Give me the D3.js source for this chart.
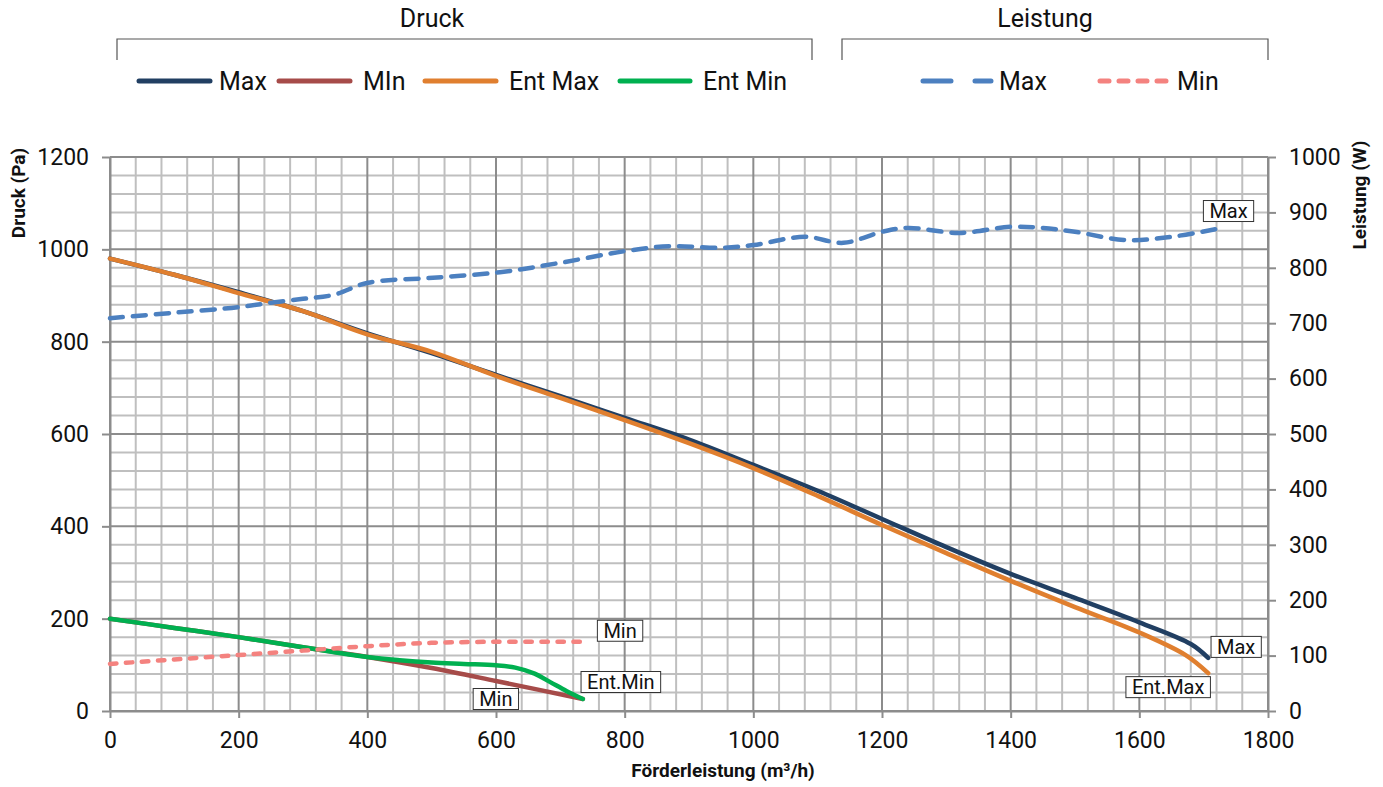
<!DOCTYPE html>
<html><head><meta charset="utf-8">
<script src="https://cdn.jsdelivr.net/npm/d3@7"></script>
<style>
body{margin:0;background:#fff}
svg{display:block}
text{font-family:Roboto,"Noto Sans",sans-serif;fill:#111}
</style>
</head><body>
<svg id="c" width="1383" height="787"></svg>
<script>
// ---- Data (Förderleistung m³/h vs Druck Pa / Leistung W) ----
const druckMaxQ = [0, 100, 200, 300, 400, 500, 600, 700, 800, 900, 1000, 1100, 1200, 1300, 1400, 1500, 1600, 1680, 1707];
const druckMaxP = [980, 945, 907, 866, 818, 775, 728, 682, 635, 588, 533, 477, 416, 355, 297, 245, 192, 145, 115];

const druckMinQ = [0, 100, 200, 300, 400, 500, 600, 735];
const druckMinP = [200, 180, 160, 138, 117, 93, 65, 26];

const entMaxQ = [0, 100, 200, 300, 400, 500, 600, 700, 800, 900, 1000, 1100, 1200, 1300, 1400, 1500, 1600, 1672, 1707];
const entMaxP = [980, 945, 905, 866, 816, 778, 726, 678, 630, 580, 526, 466, 403, 342, 282, 225, 170, 121, 82];

const entMinQ = [0, 100, 200, 300, 400, 450, 500, 550, 600, 630, 660, 685, 710, 735];
const entMinP = [200, 180, 160, 138, 117, 110, 105, 102, 99, 94, 81, 62, 43, 26];

const leistMaxQ = [0, 100, 200, 250, 300, 347, 401, 502, 606, 700, 800, 870, 950, 1000, 1080, 1140, 1200, 1240, 1320, 1400, 1450, 1500, 1580, 1650, 1720];
const leistMaxW = [709, 719, 729, 737, 744, 751, 773, 782, 792, 809, 830, 839, 836, 841, 856, 845, 865, 872, 863, 874, 872, 865, 850, 856, 870];

const leistMinQ = [0, 100, 200, 300, 400, 500, 600, 740];
const leistMinW = [85, 93, 101, 109, 117, 123, 125, 125];

const xTicks = [0, 200, 400, 600, 800, 1000, 1200, 1400, 1600, 1800];
const yLeftTicks = [0, 200, 400, 600, 800, 1000, 1200];
const yRightTicks = [0, 100, 200, 300, 400, 500, 600, 700, 800, 900, 1000];

// ---- Layout ----
const svg = d3.select("#c");
const P = {l:110, r:1268, t:157, b:711};
const x = d3.scaleLinear().domain([0,1800]).range([P.l,P.r]);
const yL = d3.scaleLinear().domain([0,1200]).range([P.b,P.t]);
const yR = d3.scaleLinear().domain([0,1000]).range([P.b,P.t]);

const MINOR="#bfbfbf", MAJOR="#8c8c8c";
const C = {max:"#213f62", min:"#a64b49", entMax:"#e07f2f", entMin:"#00b050", lMax:"#4c80c0", lMin:"#f4827f"};

// grid
const g = svg.append("g");
const minorX = d3.range(0,1801,40).filter(v=>v%200!==0);
const minorY = d3.range(0,1201,40).filter(v=>v%200!==0);
g.selectAll(".mx").data(minorX).join("line").attr("x1",d=>x(d)).attr("x2",d=>x(d)).attr("y1",P.t).attr("y2",P.b).attr("stroke",MINOR).attr("stroke-width",2);
g.selectAll(".my").data(minorY).join("line").attr("y1",d=>yL(d)).attr("y2",d=>yL(d)).attr("x1",P.l).attr("x2",P.r).attr("stroke",MINOR).attr("stroke-width",2);
g.selectAll(".Mx").data(xTicks).join("line").attr("x1",d=>x(d)).attr("x2",d=>x(d)).attr("y1",P.t).attr("y2",P.b).attr("stroke",MAJOR).attr("stroke-width",2);
g.selectAll(".My").data(yLeftTicks).join("line").attr("y1",d=>yL(d)).attr("y2",d=>yL(d)).attr("x1",P.l).attr("x2",P.r).attr("stroke",MAJOR).attr("stroke-width",2);

// axes
const fmt = d3.format("d");
function styleAxis(sel){
  sel.select(".domain").attr("stroke",MAJOR).attr("stroke-width",2);
  sel.selectAll(".tick line").attr("stroke",MAJOR).attr("stroke-width",2);
  sel.selectAll(".tick text").attr("fill","#111").style("font-size","23px").style("font-family","Roboto,sans-serif");
}
svg.append("g").attr("transform",`translate(${P.l},0)`).call(d3.axisLeft(yL).tickValues(yLeftTicks).tickFormat(fmt).tickSize(8).tickPadding(13).tickSizeOuter(0)).call(styleAxis);
svg.append("g").attr("transform",`translate(${P.r},0)`).call(d3.axisRight(yR).tickValues(yRightTicks).tickFormat(fmt).tickSize(8).tickPadding(13).tickSizeOuter(0)).call(styleAxis);
svg.append("g").attr("transform",`translate(0,${P.b})`).call(d3.axisBottom(x).tickValues(xTicks).tickFormat(fmt).tickSize(7).tickPadding(14).tickSizeOuter(0)).call(styleAxis);

// axis titles
svg.append("text").attr("transform","translate(25,193) rotate(-90)").attr("text-anchor","middle").style("font-size","19px").style("font-weight","bold").text("Druck (Pa)");
svg.append("text").attr("transform","translate(1366,195) rotate(-90)").attr("text-anchor","middle").style("font-size","19px").style("font-weight","bold").text("Leistung (W)");
svg.append("text").attr("x",723).attr("y",777).attr("text-anchor","middle").style("font-size","19px").style("font-weight","bold").text("Förderleistung (m³/h)");

// lines
const curve = d3.curveCatmullRom.alpha(0.5);
const lineL = d3.line().x(d=>x(d[0])).y(d=>yL(d[1])).curve(curve);
const lineR = d3.line().x(d=>x(d[0])).y(d=>yR(d[1])).curve(curve);
const series = [
  {q:druckMaxQ, v:druckMaxP, c:C.max, ln:lineL},
  {q:druckMinQ, v:druckMinP, c:C.min, ln:lineL},
  {q:entMaxQ, v:entMaxP, c:C.entMax, ln:lineL},
  {q:entMinQ, v:entMinP, c:C.entMin, ln:lineL},
  {q:leistMaxQ, v:leistMaxW, c:C.lMax, ln:lineR, dash:"13,10"},
  {q:leistMinQ, v:leistMinW, c:C.lMin, ln:lineR, dash:"6.5,9.5"}
];
series.forEach(s=>{
  svg.append("path").attr("d",s.ln(d3.zip(s.q,s.v))).attr("fill","none").attr("stroke",s.c)
    .attr("stroke-width",4.5).attr("stroke-linecap","round").attr("stroke-linejoin","round")
    .attr("stroke-dasharray",s.dash||null);
});

// data labels
function label(txt, px, py, dx, dy){
  const gg = svg.append("g");
  const t = gg.append("text").attr("text-anchor","middle").attr("x",px+dx).attr("y",py+dy+7).style("font-size","20px").text(txt);
  const w = t.node().getComputedTextLength()+12;
  gg.insert("rect","text").attr("x",px+dx-w/2).attr("y",py+dy-10.5).attr("width",w).attr("height",21).attr("fill","#fff").attr("stroke","#333").attr("stroke-width",1);
}
const last = (a)=>a[a.length-1];
label("Max", x(last(leistMaxQ)), yR(last(leistMaxW)), 12, -18);
label("Max", x(last(druckMaxQ)), yL(last(druckMaxP)), 28, -11);
label("Ent.Max", x(last(entMaxQ)), yL(last(entMaxP)), -40, 14);
label("Min", x(last(leistMinQ)), yR(last(leistMinW)), 34, -11);
label("Ent.Min", x(last(entMinQ)), yL(last(entMinP)), 38, -17);
label("Min", x(last(druckMinQ)), yL(last(druckMinP)), -87, 0);

// legend
const LG = svg.append("g");
function bracket(x1,x2,title,cx){
  LG.append("text").attr("x",cx).attr("y",27).attr("text-anchor","middle").style("font-size","25px").text(title);
  LG.append("path").attr("d",`M${x1},60V39H${x2}V60`).attr("fill","none").attr("stroke","#555").attr("stroke-width",1.2);
}
bracket(117,812,"Druck",432);
bracket(842,1268,"Leistung",1045);
const legItems = [
  {x1:139,x2:210,tx:219,c:C.max,t:"Max"},
  {x1:279,x2:350,tx:363,c:C.min,t:"MIn"},
  {x1:425,x2:496,tx:509,c:C.entMax,t:"Ent Max"},
  {x1:620,x2:690,tx:703,c:C.entMin,t:"Ent Min"},
  {x1:923,x2:991,tx:999,c:C.lMax,t:"Max",dash:"28,24"},
  {x1:1100,x2:1168,tx:1177,c:C.lMin,t:"Min",dash:"9,10"}
];
legItems.forEach(d=>{
  LG.append("line").attr("x1",d.x1).attr("x2",d.x2).attr("y1",81).attr("y2",81).attr("stroke",d.c).attr("stroke-width",5)
    .attr("stroke-linecap","round").attr("stroke-dasharray",d.dash||null);
  LG.append("text").attr("x",d.tx).attr("y",90).style("font-size","25px").text(d.t);
});
</script>
</body></html>
